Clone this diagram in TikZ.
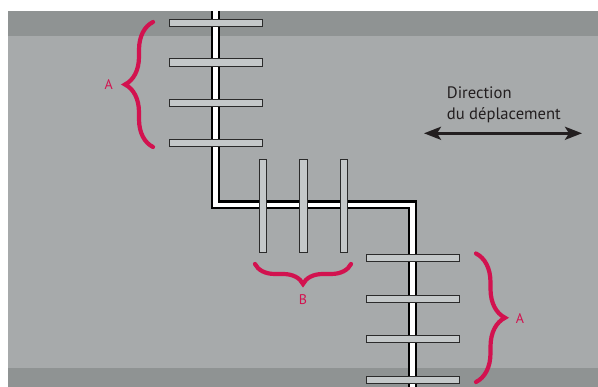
\documentclass[tikz,border=0pt]{standalone}
\usepackage{fontspec}
\setmainfont{PT Sans}
\usetikzlibrary{decorations.pathreplacing,arrows.meta}
\definecolor{bglight}{HTML}{A7AAAB}
\definecolor{bgdark}{HTML}{8F9393}
\definecolor{rungfill}{HTML}{C4C8C9}
\definecolor{rungline}{HTML}{2B2B2B}
\definecolor{crimson}{HTML}{D2124F}
\definecolor{txt}{HTML}{231F20}
\tikzset{
  rungh/.style={draw=rungline, fill=rungfill, line width=0.9pt, rectangle, inner sep=0pt, minimum width=93pt, minimum height=7.3pt},
  rungv/.style={draw=rungline, fill=rungfill, line width=0.9pt, rectangle, inner sep=0pt, minimum width=7.3pt, minimum height=93pt},
  bracestyle/.style={draw=crimson, line width=4.2pt, line cap=round, decorate},
  lbl/.style={text=crimson, font=\fontsize{14}{16}\selectfont, inner sep=0pt},
  dirtext/.style={text=txt, font=\fontsize{16.6}{19}\selectfont, inner sep=0pt, anchor=base west},
}
\begin{document}
\begin{tikzpicture}[x=1pt,y=-1pt]
\useasboundingbox (0,0) rectangle (598,387);
% background
\fill[bglight] (8,11) rectangle (598,387);
\fill[bgdark] (8,11) rectangle (598,36);
\fill[bgdark] (8,368) rectangle (598,387);
% pipe
\coordinate (p0) at (215.5,11);
\coordinate (p1) at (215.5,205);
\coordinate (p2) at (412.7,205);
\coordinate (p3) at (412.7,387);
\draw[black, line width=9pt, line join=miter] (p0) -- (p1) -- (p2) -- (p3);
\draw[white, line width=4.5pt, line join=miter] (p0) -- (p1) -- (p2) -- (p3);
% rungs top-left
\node[rungh] (a1) at (216,23) {};
\node[rungh] (a2) at (216,62.5) {};
\node[rungh] (a3) at (216,102.7) {};
\node[rungh] (a4) at (216,143.3) {};
% vertical rungs
\node[rungv] (b1) at (262.7,206) {};
\node[rungv] (b2) at (303.3,206) {};
\node[rungv] (b3) at (344,206) {};
% rungs right
\node[rungh] (c1) at (412.7,258) {};
\node[rungh] (c2) at (412.7,298.7) {};
\node[rungh] (c3) at (412.7,339.3) {};
\node[rungh] (c4) at (412.7,380) {};
% braces
\coordinate (ba0) at (153,147);
\coordinate (ba1) at (153,22);
\draw[bracestyle, decoration={brace, amplitude=28pt}] (ba0) -- (ba1);
\coordinate (bb0) at (351,264);
\coordinate (bb1) at (255,264);
\draw[bracestyle, decoration={brace, amplitude=20pt}] (bb0) -- (bb1);
\coordinate (bc0) at (476,253.5);
\coordinate (bc1) at (476,382);
\draw[bracestyle, decoration={brace, amplitude=29pt}] (bc0) -- (bc1);
% labels
\node[lbl] (la) at (108.7,84.5) {A};
\node[lbl] (lb) at (303,299.5) {B};
\node[lbl] (lc) at (520,318.5) {A};
% direction
\node[dirtext] (d1) at (446.7,98.7) {Direction};
\node[dirtext] (d2) at (446.7,120) {du déplacement};
\coordinate (arL) at (424,133.3);
\coordinate (arR) at (582,133.3);
\draw[txt, line width=3pt, {Stealth[length=17pt,width=13pt,inset=4pt]}-{Stealth[length=17pt,width=13pt,inset=4pt]}] (arL) -- (arR);
\end{tikzpicture}
\end{document}
